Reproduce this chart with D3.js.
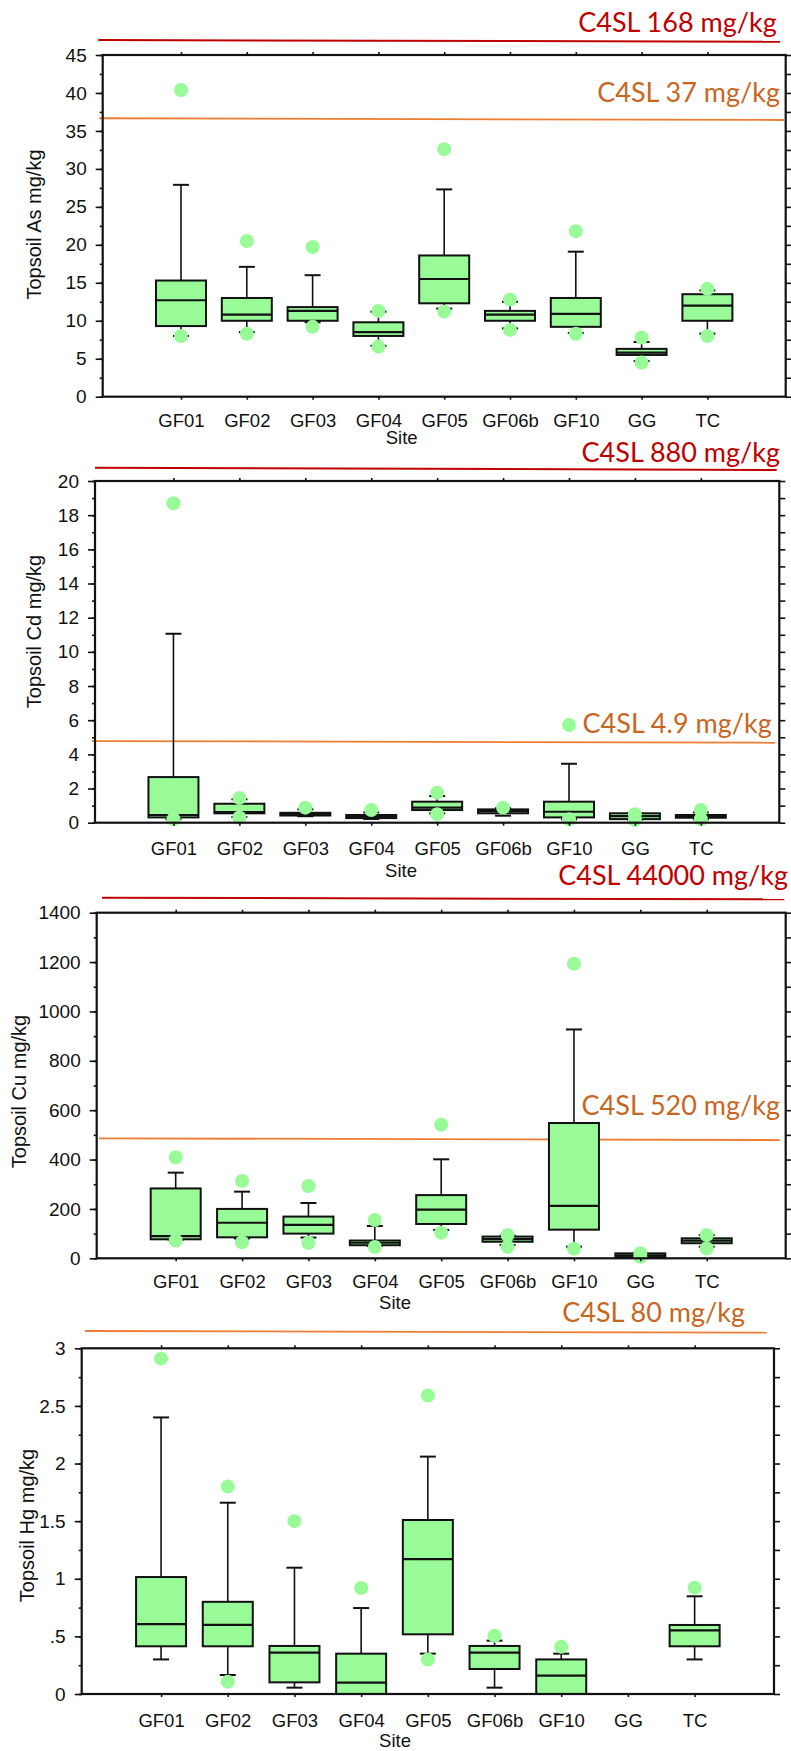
<!DOCTYPE html>
<html>
<head>
<meta charset="utf-8">
<script src="https://cdn.jsdelivr.net/npm/d3@7"></script>
<style>
body { margin: 0; background: #fff; }
svg { display: block; font-family: "Liberation Sans", Arial, sans-serif; }
.c4sl { font-family: Lato, "Open Sans", sans-serif; font-size: 27px; }
</style>
</head>
<body>
<svg id="chart" width="791" height="1751"></svg>
<script>

var sites = ["GF01", "GF02", "GF03", "GF04", "GF05", "GF06b", "GF10", "GG", "TC"];

// box summaries per site: [lower whisker, q1, median, q3, upper whisker]
var asStats = [[8.0, 9.3, 12.7, 15.3, 27.9], [8.5, 10.0, 10.8, 13.0, 17.1], [9.8, 10.0, 11.3, 11.8, 16.0],
  [6.7, 8.0, 8.5, 9.8, 11.2], [11.6, 12.3, 15.5, 18.6, 27.3], [9.0, 10.0, 10.8, 11.3, 12.5],
  [8.4, 9.2, 10.9, 13.0, 19.1], [4.7, 5.5, 5.8, 6.3, 7.2], [8.3, 10.0, 12.0, 13.5, 14.0]];
var asDots = [[40.4, 8.0], [20.5, 8.3], [19.7, 9.2], [11.3, 6.6], [32.6, 11.2], [12.8, 8.8], [21.8, 8.3], [7.8, 4.5], [14.2, 8.0]];
var asTicks = [0, 5, 10, 15, 20, 25, 30, 35, 40, 45];

var cdStats = [[0.2, 0.31, 0.45, 2.67, 11.06], [0.33, 0.55, 0.62, 1.11, 1.37], [0.38, 0.42, 0.5, 0.58, 0.78],
  [0.22, 0.27, 0.35, 0.45, 0.6], [0.55, 0.74, 0.88, 1.23, 1.56], [0.41, 0.55, 0.68, 0.78, 0.85],
  [0.2, 0.31, 0.64, 1.23, 3.45], [0.18, 0.21, 0.39, 0.55, 0.55], [0.2, 0.29, 0.37, 0.45, 0.6]];
var cdDots = [[18.7, 0.2], [1.44, 0.3], [0.88], [0.74], [1.76, 0.5], [0.88], [5.72, 0.2], [0.5, 0.15], [0.75, 0.2]];
var cdTicks = [0, 2, 4, 6, 8, 10, 12, 14, 16, 18, 20];

var cuStats = [[75, 77, 90, 283, 347], [80, 85, 144, 200, 270], [84, 100, 135, 169, 224],
  [50, 53, 63, 72, 131], [115, 139, 197, 256, 401], [54, 67, 78, 88, 92],
  [47, 116, 212, 548, 927], [4, 5, 12, 20, 20], [47, 61, 72, 81, 94]];
var cuDots = [[409, 72], [313, 65], [293, 63], [155, 46], [541, 104], [94, 47], [1193, 39], [20, 6], [94, 40]];
var cuTicks = [0, 200, 400, 600, 800, 1000, 1200, 1400];

var hgStats = [[0.30, 0.414, 0.607, 1.015, 2.40], [0.165, 0.414, 0.60, 0.80, 1.66], [0.055, 0.101, 0.359, 0.417, 1.096],
  [0, 0, 0.098, 0.35, 0.746], [0.35, 0.518, 1.17, 1.51, 2.06], [0.055, 0.217, 0.359, 0.417, 0.463],
  [0, 0, 0.159, 0.30, 0.35], null, [0.30, 0.414, 0.552, 0.599, 0.848]];
var hgDots = [[2.91], [1.80, 0.107], [1.50], [0.92], [2.59, 0.30], [0.506], [0.41], [], [0.923]];
var hgTicks = [0, 0.5, 1, 1.5, 2, 2.5, 3];

var c4slLabels = ["C4SL 168 mg/kg", "C4SL 37 mg/kg", "C4SL 880 mg/kg", "C4SL 4.9 mg/kg",
  "C4SL 44000 mg/kg", "C4SL 520 mg/kg", "C4SL 80 mg/kg"];

var green = "#98fb98", red = "#c00000", orangeLine = "#ed7d31", orangeText = "#c8661f", ink = "#111";

var panels = [
  {title: "Topsoil As mg/kg", stats: asStats, dots: asDots, ticks: asTicks, minor: 2.5,
   left: 102.7, right: 785.7, top: 55, bottom: 396.7, labX: 40.8, labY: 224.5, catBase: 427, siteX: 401.7, siteBase: 444.3,
   refs: [{color: red, text: c4slLabels[0], tc: red, x1: 98.3, x2: 780, y1: 40, y2: 41.7, tx: 776.7, ty: 31.7},
          {color: orangeLine, text: c4slLabels[1], tc: orangeText, x1: 99.3, x2: 784, v1: 36.67, v2: 36.44, tx: 780, ty: 101.7}]},
  {title: "Topsoil Cd mg/kg", stats: cdStats, dots: cdDots, ticks: cdTicks, minor: 1,
   left: 95, right: 779.3, top: 481, bottom: 822.7, labX: 41, labY: 631.5, catBase: 855, siteX: 401, siteBase: 876.7,
   refs: [{color: red, text: c4slLabels[2], tc: red, x1: 95, x2: 776.7, y1: 467.7, y2: 470, tx: 780, ty: 461.7},
          {color: orangeLine, text: c4slLabels[3], tc: orangeText, x1: 91.7, x2: 775, v1: 4.78, v2: 4.68, tx: 771.7, ty: 733.3}]},
  {title: "Topsoil Cu mg/kg", stats: cuStats, dots: cuDots, ticks: cuTicks, minor: 100,
   left: 96.7, right: 785.7, top: 912.7, bottom: 1258.3, labX: 26, labY: 1091.5, catBase: 1288.3, siteX: 395, siteBase: 1309.3,
   refs: [{color: red, text: c4slLabels[4], tc: red, x1: 102, x2: 784.3, y1: 897.7, y2: 899.3, tx: 788, ty: 885},
          {color: orangeLine, text: c4slLabels[5], tc: orangeText, x1: 99, x2: 780, v1: 486, v2: 479, tx: 780, ty: 1115}]},
  {title: "Topsoil Hg mg/kg", stats: hgStats, dots: hgDots, ticks: hgTicks, minor: 0.25,
   left: 81.7, right: 774, top: 1348.3, bottom: 1694, labX: 34, labY: 1525.5, catBase: 1726.7, siteX: 395, siteBase: 1746.7,
   refs: [{color: orangeLine, text: c4slLabels[6], tc: orangeText, x1: 85, x2: 766.7, y1: 1331, y2: 1332.7, tx: 745, ty: 1321.7}]}
];

var svg = d3.select("#chart");

function fmt(d) {
  return d === 0 ? "0" : String(d).replace(/^0\./, ".");
}

panels.forEach(function(p) {
  var g = svg.append("g");
  var max = d3.max(p.ticks);
  var x = d3.scalePoint().domain(sites).range([p.left, p.right]).padding(1.19);
  var y = d3.scaleLinear().domain([0, max]).range([p.bottom, p.top]);
  var minorTicks = d3.range(0, max + p.minor / 2, p.minor);

  // reference lines (C4SL)
  p.refs.forEach(function(r) {
    var ya = r.v1 !== undefined ? y(r.v1) : r.y1;
    var yb = r.v2 !== undefined ? y(r.v2) : r.y2;
    g.append("line")
      .attr("x1", r.x1).attr("x2", r.x2)
      .attr("y1", ya).attr("y2", yb)
      .attr("stroke", r.color)
      .attr("stroke-width", r.color === red ? 2 : 1.8);
    g.append("text")
      .classed("c4sl", true)
      .attr("x", r.tx).attr("y", r.ty)
      .attr("text-anchor", "end")
      .attr("fill", r.tc)
      .text(r.text);
  });

  // boxes
  var boxW = 50, capW = 16;
  sites.forEach(function(s, i) {
    var st = p.stats[i];
    if (!st) return;
    var cx = x(s);
    var bg = g.append("g").attr("stroke", ink);
    bg.append("line").attr("x1", cx).attr("x2", cx).attr("y1", y(st[4])).attr("y2", y(st[3])).attr("stroke-width", 1.6);
    bg.append("line").attr("x1", cx).attr("x2", cx).attr("y1", y(st[1])).attr("y2", y(st[0])).attr("stroke-width", 1.6);
    bg.append("line").attr("x1", cx - capW / 2).attr("x2", cx + capW / 2).attr("y1", y(st[4])).attr("y2", y(st[4])).attr("stroke-width", 2);
    bg.append("line").attr("x1", cx - capW / 2).attr("x2", cx + capW / 2).attr("y1", y(st[0])).attr("y2", y(st[0])).attr("stroke-width", 2);
    bg.append("rect")
      .attr("x", cx - boxW / 2).attr("width", boxW)
      .attr("y", y(st[3])).attr("height", y(st[1]) - y(st[3]))
      .attr("fill", green).attr("stroke-width", 2);
    bg.append("line").attr("x1", cx - boxW / 2).attr("x2", cx + boxW / 2).attr("y1", y(st[2])).attr("y2", y(st[2])).attr("stroke-width", 2.2);
  });

  // points
  sites.forEach(function(s, i) {
    g.selectAll(null)
      .data(p.dots[i])
      .enter().append("circle")
      .attr("cx", x(s))
      .attr("cy", function(d) { return y(d); })
      .attr("r", 7)
      .attr("fill", green);
  });

  // axes
  var left = g.append("g").attr("transform", "translate(" + p.left + ",0)")
    .call(d3.axisLeft(y).tickValues(p.ticks).tickSize(7).tickPadding(9).tickFormat(fmt));
  left.selectAll("text").attr("font-size", 19).attr("fill", ink).attr("font-family", "Liberation Sans, Arial, sans-serif");
  g.append("g").attr("transform", "translate(" + p.left + ",0)")
    .call(d3.axisLeft(y).tickValues(minorTicks).tickSize(3).tickFormat(""));
  g.append("g").attr("transform", "translate(" + p.right + ",0)")
    .call(d3.axisRight(y).tickValues(minorTicks).tickSize(6).tickFormat(""));
  g.append("g").attr("transform", "translate(0," + p.top + ")")
    .call(d3.axisTop(x).tickSize(3).tickFormat(""));
  var bottom = g.append("g").attr("transform", "translate(0," + p.bottom + ")")
    .call(d3.axisBottom(x).tickSize(3));
  bottom.selectAll("text")
    .attr("y", p.catBase - p.bottom).attr("dy", null)
    .attr("font-size", 18.5).attr("fill", ink).attr("font-family", "Liberation Sans, Arial, sans-serif");
  g.selectAll(".domain").remove();
  g.selectAll(".tick line").attr("stroke", ink).attr("stroke-width", 1.6);

  // frame
  g.append("rect")
    .attr("x", p.left).attr("y", p.top)
    .attr("width", p.right - p.left).attr("height", p.bottom - p.top)
    .attr("fill", "none").attr("stroke", ink).attr("stroke-width", 2.2);

  g.append("text")
    .attr("transform", "translate(" + p.labX + "," + p.labY + ") rotate(-90)")
    .attr("text-anchor", "middle")
    .attr("font-size", 20)
    .attr("fill", ink)
    .text(p.title);

  g.append("text")
    .attr("x", p.siteX).attr("y", p.siteBase)
    .attr("text-anchor", "middle")
    .attr("font-size", 18.5)
    .attr("fill", ink)
    .text("Site");
});

</script>
</body>
</html>
